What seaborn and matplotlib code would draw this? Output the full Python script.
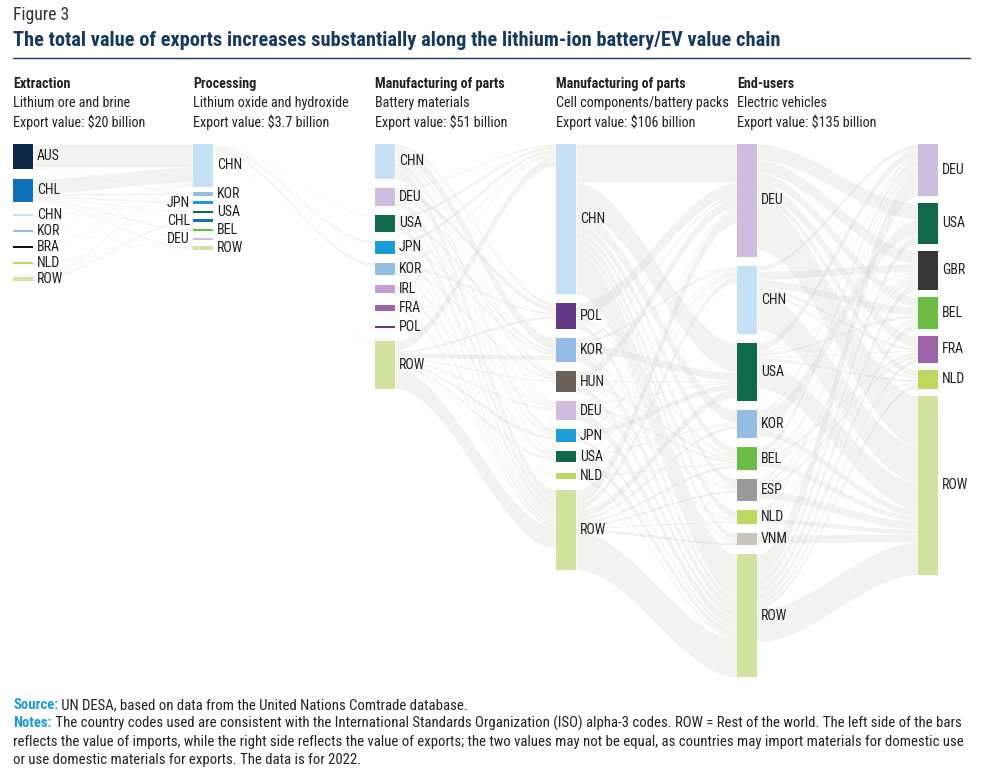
import numpy as np
import pandas as pd
import seaborn as sns
import matplotlib.pyplot as plt
from matplotlib import font_manager

sns.set_theme(style='white')
names = {f.name for f in font_manager.fontManager.ttflist}
prefs = ['Roboto Condensed', 'Liberation Sans Narrow', 'Archivo Narrow', 'PT Sans Narrow',
         'Fira Sans Condensed', 'IBM Plex Sans Condensed', 'Roboto']
main_font = [f for f in prefs if f in names][:1]
plt.rcParams['font.family'] = main_font + ['DejaVu Sans']

# bar sizes (US$ billion) per stage
col0_names = ['AUS', 'CHL', 'CHN', 'KOR', 'BRA', 'NLD', 'ROW']
col0_vals = [7.8, 7.2, 0.45, 0.45, 0.45, 0.45, 1.1]
col1_names = ['CHN', 'KOR', 'JPN', 'USA', 'CHL', 'BEL', 'DEU', 'ROW']
col1_vals = [13.4, 1.25, 0.95, 0.45, 0.95, 0.8, 0.3, 1.1]
col2_names = ['CHN', 'DEU', 'USA', 'JPN', 'KOR', 'IRL', 'FRA', 'POL', 'ROW']
col2_vals = [10.9, 5.6, 5.3, 4.1, 3.75, 2.5, 1.9, 0.45, 15.0]
col3_names = ['CHN', 'POL', 'KOR', 'HUN', 'DEU', 'JPN', 'USA', 'NLD', 'ROW']
col3_vals = [46.9, 8.1, 7.5, 6.6, 5.9, 4.1, 3.4, 1.9, 25.0]
col4_names = ['DEU', 'CHN', 'USA', 'KOR', 'BEL', 'ESP', 'NLD', 'VNM', 'ROW']
col4_vals = [35.3, 21.3, 18.1, 8.75, 7.2, 6.9, 4.4, 3.75, 38.4]
col5_names = ['DEU', 'USA', 'GBR', 'BEL', 'FRA', 'NLD', 'ROW']
col5_vals = [16.25, 12.8, 12.2, 10.0, 8.4, 5.9, 55.9]

# trade links (exporter, importer, US$ billion), estimated
links_ore = [('AUS', 'CHN', 7.3), ('AUS', 'KOR', 0.3), ('AUS', 'ROW', 0.2),
             ('CHL', 'CHN', 4.6), ('CHL', 'KOR', 0.6), ('CHL', 'JPN', 0.6), ('CHL', 'USA', 0.3),
             ('CHL', 'BEL', 0.5), ('CHL', 'DEU', 0.15), ('CHL', 'ROW', 0.45),
             ('CHN', 'KOR', 0.15), ('CHN', 'JPN', 0.15), ('CHN', 'ROW', 0.15),
             ('KOR', 'CHN', 0.2), ('KOR', 'JPN', 0.1), ('KOR', 'ROW', 0.15),
             ('BRA', 'CHN', 0.3), ('BRA', 'USA', 0.15),
             ('NLD', 'BEL', 0.2), ('NLD', 'DEU', 0.15), ('NLD', 'ROW', 0.1),
             ('ROW', 'CHL', 0.6), ('ROW', 'CHN', 0.5)]
links_oxide = [('CHN', 'JPN', 0.7), ('CHN', 'KOR', 1.0), ('CHN', 'USA', 0.3), ('CHN', 'DEU', 0.15),
               ('CHN', 'ROW', 0.35), ('CHN', 'FRA', 0.05), ('CHN', 'POL', 0.05),
               ('KOR', 'CHN', 0.1), ('KOR', 'JPN', 0.05), ('KOR', 'USA', 0.05), ('KOR', 'ROW', 0.1),
               ('JPN', 'CHN', 0.05), ('JPN', 'KOR', 0.1), ('JPN', 'USA', 0.05),
               ('USA', 'CHN', 0.05), ('USA', 'JPN', 0.05), ('USA', 'KOR', 0.05),
               ('CHL', 'CHN', 0.05), ('CHL', 'KOR', 0.05), ('CHL', 'USA', 0.05),
               ('BEL', 'DEU', 0.05), ('BEL', 'FRA', 0.05), ('DEU', 'IRL', 0.03), ('DEU', 'POL', 0.02),
               ('ROW', 'CHN', 0.05), ('ROW', 'DEU', 0.05), ('ROW', 'ROW', 0.05)]
links_materials = [('CHN', 'KOR', 3.5), ('CHN', 'JPN', 1.5), ('CHN', 'POL', 1.0), ('CHN', 'HUN', 0.8),
                   ('CHN', 'USA', 0.7), ('CHN', 'DEU', 0.4), ('CHN', 'ROW', 3.0),
                   ('DEU', 'POL', 1.5), ('DEU', 'HUN', 1.0), ('DEU', 'CHN', 0.5), ('DEU', 'NLD', 0.3),
                   ('DEU', 'ROW', 2.3),
                   ('USA', 'CHN', 1.0), ('USA', 'KOR', 1.0), ('USA', 'JPN', 0.8), ('USA', 'DEU', 0.5),
                   ('USA', 'ROW', 2.0),
                   ('JPN', 'CHN', 1.2), ('JPN', 'KOR', 0.8), ('JPN', 'USA', 0.8), ('JPN', 'POL', 0.3),
                   ('JPN', 'ROW', 1.0),
                   ('KOR', 'CHN', 0.6), ('KOR', 'HUN', 0.8), ('KOR', 'POL', 0.8), ('KOR', 'USA', 0.5),
                   ('KOR', 'ROW', 1.05),
                   ('IRL', 'CHN', 0.4), ('IRL', 'DEU', 0.4), ('IRL', 'NLD', 0.3), ('IRL', 'ROW', 1.4),
                   ('FRA', 'DEU', 0.6), ('FRA', 'POL', 0.3), ('FRA', 'ROW', 1.0),
                   ('POL', 'DEU', 0.25), ('POL', 'HUN', 0.2),
                   ('ROW', 'CHN', 3.0), ('ROW', 'KOR', 1.5), ('ROW', 'JPN', 1.0), ('ROW', 'POL', 0.8),
                   ('ROW', 'HUN', 0.5), ('ROW', 'DEU', 0.6), ('ROW', 'USA', 0.8), ('ROW', 'NLD', 0.3),
                   ('ROW', 'ROW', 6.5)]
links_cells = [('CHN', 'DEU', 12.0), ('CHN', 'USA', 9.0), ('CHN', 'KOR', 4.0), ('CHN', 'BEL', 2.5),
               ('CHN', 'ESP', 2.0), ('CHN', 'NLD', 2.5), ('CHN', 'VNM', 2.0), ('CHN', 'ROW', 12.9),
               ('POL', 'DEU', 4.0), ('POL', 'CHN', 0.3), ('POL', 'USA', 0.2), ('POL', 'BEL', 0.8),
               ('POL', 'ESP', 0.5), ('POL', 'NLD', 0.3), ('POL', 'ROW', 2.0),
               ('KOR', 'USA', 2.5), ('KOR', 'CHN', 1.0), ('KOR', 'DEU', 0.8), ('KOR', 'VNM', 0.7),
               ('KOR', 'ROW', 2.5),
               ('HUN', 'DEU', 3.0), ('HUN', 'BEL', 0.8), ('HUN', 'ESP', 0.4), ('HUN', 'USA', 0.4),
               ('HUN', 'ROW', 2.0),
               ('DEU', 'BEL', 0.8), ('DEU', 'ESP', 0.5), ('DEU', 'NLD', 0.6), ('DEU', 'USA', 0.5),
               ('DEU', 'CHN', 0.5), ('DEU', 'ROW', 3.0),
               ('JPN', 'USA', 1.8), ('JPN', 'CHN', 0.8), ('JPN', 'KOR', 0.3), ('JPN', 'ROW', 1.2),
               ('USA', 'DEU', 0.3), ('USA', 'CHN', 0.6), ('USA', 'KOR', 0.5), ('USA', 'ROW', 2.0),
               ('NLD', 'DEU', 0.6), ('NLD', 'BEL', 0.5), ('NLD', 'ROW', 0.8),
               ('ROW', 'DEU', 4.2), ('ROW', 'CHN', 2.0), ('ROW', 'USA', 2.5), ('ROW', 'KOR', 1.0),
               ('ROW', 'BEL', 1.0), ('ROW', 'ESP', 0.8), ('ROW', 'NLD', 0.5), ('ROW', 'VNM', 1.0),
               ('ROW', 'ROW', 12.0)]
links_ev = [('DEU', 'USA', 5.0), ('DEU', 'GBR', 4.0), ('DEU', 'BEL', 3.0), ('DEU', 'FRA', 3.5),
            ('DEU', 'NLD', 2.0), ('DEU', 'ROW', 15.5),
            ('CHN', 'DEU', 1.5), ('CHN', 'USA', 0.2), ('CHN', 'GBR', 2.5), ('CHN', 'BEL', 2.5),
            ('CHN', 'FRA', 1.0), ('CHN', 'NLD', 0.8), ('CHN', 'ROW', 11.5),
            ('USA', 'DEU', 2.5), ('USA', 'GBR', 0.5), ('USA', 'BEL', 1.0), ('USA', 'FRA', 0.5),
            ('USA', 'NLD', 1.0), ('USA', 'ROW', 8.5),
            ('KOR', 'DEU', 1.0), ('KOR', 'USA', 4.5), ('KOR', 'GBR', 0.5), ('KOR', 'ROW', 2.0),
            ('BEL', 'DEU', 2.0), ('BEL', 'GBR', 0.8), ('BEL', 'FRA', 1.0), ('BEL', 'NLD', 0.5),
            ('BEL', 'ROW', 1.7),
            ('ESP', 'DEU', 1.0), ('ESP', 'GBR', 1.0), ('ESP', 'BEL', 0.5), ('ESP', 'FRA', 1.0),
            ('ESP', 'ROW', 2.5),
            ('NLD', 'DEU', 1.2), ('NLD', 'GBR', 0.5), ('NLD', 'BEL', 0.8), ('NLD', 'ROW', 1.5),
            ('VNM', 'USA', 0.5), ('VNM', 'ROW', 2.5),
            ('ROW', 'DEU', 7.0), ('ROW', 'USA', 2.6), ('ROW', 'GBR', 2.4), ('ROW', 'BEL', 2.2),
            ('ROW', 'FRA', 1.4), ('ROW', 'NLD', 1.6), ('ROW', 'ROW', 10.3)]

headers = [('Extraction', 'Lithium ore and brine', 'Export value: \\$20 billion'),
           ('Processing', 'Lithium oxide and hydroxide', 'Export value: \\$3.7 billion'),
           ('Manufacturing of parts', 'Battery materials', 'Export value: \\$51 billion'),
           ('Manufacturing of parts', 'Cell components/battery packs', 'Export value: \\$106 billion'),
           ('End-users', 'Electric vehicles', 'Export value: \\$135 billion')]

title = 'The total value of exports increases substantially along the lithium-ion battery/EV value chain'
source_txt = ' UN DESA, based on data from the United Nations Comtrade database.'
notes_lines = [' The country codes used are consistent with the International Standards Organization (ISO) alpha-3 codes. ROW = Rest of the world. The left side of the bars',
               'reflects the value of imports, while the right side reflects the value of exports; the two values may not be equal, as countries may import materials for domestic use',
               'or use domestic materials for exports. The data is for 2022.']

colors = {'AUS': '#0b2748', 'CHL': '#0f71b9', 'CHN': '#c6e1f5', 'KOR': '#93bde5', 'BRA': '#111111',
          'JPN': '#199cd8', 'USA': '#11694b', 'BEL': '#6cbd45', 'DEU': '#cfbddf', 'ROW': '#d1e39f',
          'IRL': '#c39ed2', 'FRA': '#9c63a9', 'POL': '#633985', 'HUN': '#6b6159', 'NLD': '#bcd85e',
          'ESP': '#999999', 'VNM': '#c9c5ba', 'GBR': '#363833'}
left_labels = {(1, 'JPN'), (1, 'CHL'), (1, 'DEU')}

cols = [(col0_names, col0_vals), (col1_names, col1_vals), (col2_names, col2_vals),
        (col3_names, col3_vals), (col4_names, col4_vals), (col5_names, col5_vals)]
all_links = [links_ore, links_oxide, links_materials, links_cells, links_ev]

# layout (pixel space)
px_per_bn = 3.2
col_x = [13, 193, 375, 556, 737, 918]
bar_w = 20
top_y = 144
gaps = [10, 5, 9, 9, 9, 7]
min_slot = [6, 4, 10, 10, 10, 10]

fig = plt.figure(figsize=(9.84, 7.77), dpi=100)
ax = fig.add_axes([0, 0, 1, 1])
ax.set_xlim(0, 984)
ax.set_ylim(777, 0)
ax.axis('off')
fig.canvas.draw()
rend = fig.canvas.get_renderer()


def text_w(s, **kw):
    tt = ax.text(0, 0, s, **kw)
    w = tt.get_window_extent(rend).width
    tt.remove()
    return w


# pick sizes so that the text widths follow the reference
fs_title = 15 * 763 / text_w(title, fontsize=15, fontweight='bold')
fs_note = 10 * 940 / text_w(notes_lines[1], fontsize=10)
fs_head = 10 * 155 / text_w(headers[1][1], fontsize=10)
fs_fig = 10 * 56 / text_w('Figure 3', fontsize=10)
fs_lab = 10

pos = []
for c, (nm, vals) in enumerate(cols):
    d = {}
    y = top_y
    for n, v in zip(nm, vals):
        h = max(v * px_per_bn, 1.5)
        slot = max(h, min_slot[c])
        d[n] = (y + (slot - h) / 2, h)
        y += slot + gaps[c]
    pos.append(d)

t = np.linspace(0, 1, 60)
s = t * t * (3 - 2 * t)
for c, links in enumerate(all_links):
    src_names, tgt_names = cols[c][0], cols[c + 1][0]
    df = pd.DataFrame(links, columns=['src', 'tgt', 'val'])
    df['si'] = df['src'].map(src_names.index)
    df['ti'] = df['tgt'].map(tgt_names.index)
    out_off = {n: pos[c][n][0] for n in src_names}
    in_off = {n: pos[c + 1][n][0] for n in tgt_names}
    y_src, y_tgt = {}, {}
    for i, r in df.sort_values(['si', 'ti']).iterrows():
        y_src[i] = out_off[r.src]
        out_off[r.src] += r.val * px_per_bn
    for i, r in df.sort_values(['ti', 'si']).iterrows():
        y_tgt[i] = in_off[r.tgt]
        in_off[r.tgt] += r.val * px_per_bn
    x0 = col_x[c] + bar_w
    x1 = col_x[c + 1]
    xs = x0 + (x1 - x0) * t
    for i, r in df.iterrows():
        w = r.val * px_per_bn
        ya = y_src[i] + (y_tgt[i] - y_src[i]) * s
        ax.fill_between(xs, ya, ya + w, facecolor=(0.84, 0.83, 0.79, 0.30),
                        edgecolor=(1, 1, 1, 0.7), linewidth=0.4, zorder=1)

for c, (nm, vals) in enumerate(cols):
    for n in nm:
        y0, h = pos[c][n]
        ax.bar(col_x[c], h, bottom=y0, width=bar_w, align='edge', color=colors[n], linewidth=0, zorder=3)
        yc = y0 + h / 2
        if (c, n) in left_labels:
            ax.text(col_x[c] - 3, yc, n, ha='right', va='center', fontsize=fs_lab, color='#222222', zorder=4)
        else:
            ax.text(col_x[c] + bar_w + 4, yc, n, ha='left', va='center', fontsize=fs_lab, color='#222222', zorder=4)

# headings
ax.text(13, 15, 'Figure 3', fontsize=fs_fig, color='#333333', va='center')
ax.text(13, 40, title, fontsize=fs_title, fontweight='bold', color='#163a5f', va='center')
ax.plot([13, 970], [58, 58], color='#163a5f', lw=1)
for c, (h1, h2, h3) in enumerate(headers):
    ax.text(col_x[c], 84, h1, fontsize=fs_head, fontweight='bold', color='#222222', va='center')
    ax.text(col_x[c], 103, h2, fontsize=fs_head, color='#222222', va='center')
    ax.text(col_x[c], 122, h3, fontsize=fs_head, color='#222222', va='center')

# footer
foot = [('Source:', source_txt, 705), ('Notes:', notes_lines[0], 723)]
for lab, rest, y in foot:
    tl = ax.text(13, y, lab, fontsize=fs_note, fontweight='bold', color='#1b9ad6', va='center')
    bb = tl.get_window_extent(rend)
    x_end = ax.transData.inverted().transform((bb.x1, bb.y0))[0]
    ax.text(x_end, y, rest, fontsize=fs_note, color='#222222', va='center')
ax.text(13, 742, notes_lines[1], fontsize=fs_note, color='#222222', va='center')
ax.text(13, 760, notes_lines[2], fontsize=fs_note, color='#222222', va='center')

fig.savefig('out.png', dpi=100, facecolor='white')
